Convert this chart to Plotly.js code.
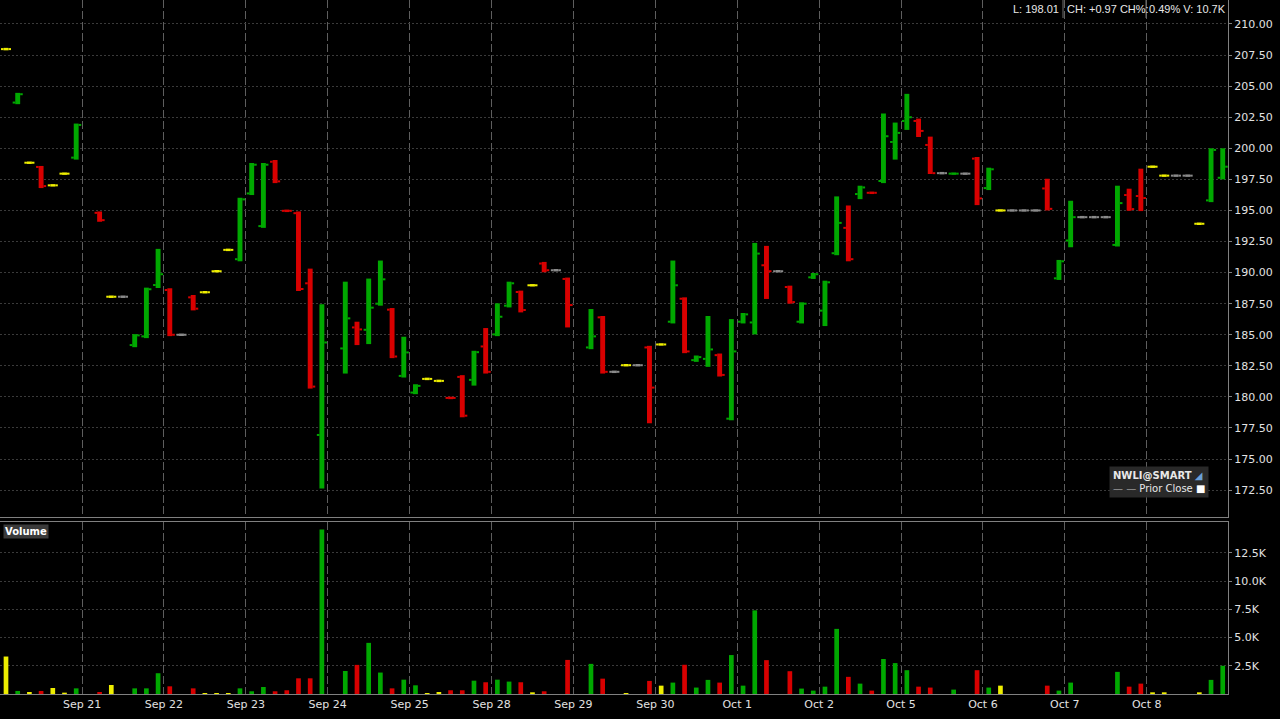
<!DOCTYPE html>
<html>
<head>
<meta charset="utf-8">
<script src="https://cdn.plot.ly/plotly-3.0.1.min.js"></script>
<style>
html,body{margin:0;padding:0;background:#000;}
#chart{width:1280px;height:719px;}
</style>
</head>
<body>
<div id="chart"></div>
<script>
// ---- Data (hourly bars, 7 per trading day; first day is Sep 18) ----
const dayLabels = ["Sep 21","Sep 22","Sep 23","Sep 24","Sep 25","Sep 28","Sep 29","Sep 30","Oct 1","Oct 2","Oct 5","Oct 6","Oct 7","Oct 8"];
const barsPerDay = 7;

// g = up, r = down, y = unchanged (flat), n = no trade (prior close), "" = empty
const kind = [
  "y","g","y","r","y","y","g",
  "","r","y","n","g","g","g",
  "r","n","r","y","y","y","g",
  "g","g","r","r","r","r","g",
  "","g","r","g","g","r","g",
  "g","y","y","r","r","g","r",
  "g","g","r","y","r","n","r",
  "","g","r","n","y","n","r",
  "y","g","r","g","g","r","g",
  "g","g","r","n","r","g","g",
  "g","g","r","g","r","g","g",
  "g","r","r","n","g","n","r",
  "g","y","n","n","n","r","g",
  "g","n","n","n","g","r","r",
  "y","y","n","n","y","g","g"
];

const openP = [
  207.98,203.68,198.84,198.50,197.02,197.96,199.25,
  null,194.81,188.06,188.06,184.17,184.87,189.00,
  188.60,185.00,188.01,188.42,190.11,191.83,191.08,
  196.37,193.74,198.92,194.97,194.78,189.14,176.94,
  null,183.90,185.59,185.40,187.50,187.02,181.69,
  180.35,181.45,181.29,179.92,181.61,181.37,184.06,
  185.03,187.34,188.44,188.98,190.73,190.19,189.49,
  null,183.98,186.40,182.02,182.55,182.55,183.98,
  184.22,186.05,187.90,182.96,183.06,183.36,178.25,
  186.05,185.99,190.59,190.11,188.84,186.05,189.62,
  186.94,191.56,193.60,196.32,196.42,197.37,200.51,
  202.20,202.20,200.27,198.00,197.96,197.96,199.17,
  196.80,195.00,195.00,195.00,195.00,196.77,189.54,
  192.58,194.46,194.46,194.46,192.23,196.24,196.16,
  198.52,197.80,197.80,197.80,193.93,195.81,197.63
];

const highP = [
  207.98,204.46,198.84,198.58,197.02,197.96,201.99,
  null,194.92,188.06,188.06,185.05,188.79,191.91,
  188.74,185.00,188.20,188.42,190.11,191.83,196.02,
  198.82,198.82,199.06,194.97,194.92,190.32,187.45,
  null,189.27,186.05,189.52,190.97,187.15,184.84,
  181.02,181.45,181.29,179.92,181.75,183.71,185.54,
  187.53,189.27,188.55,188.98,190.86,190.19,189.60,
  null,187.07,186.51,182.02,182.55,182.55,184.11,
  184.22,190.97,188.01,183.33,186.51,183.49,186.26,
  186.75,192.39,192.15,190.11,188.95,187.61,189.97,
  189.35,196.13,195.40,196.99,196.42,202.80,202.07,
  204.38,202.39,200.94,198.00,197.96,197.96,199.30,
  198.44,195.00,195.00,195.00,195.00,197.55,191.02,
  195.78,194.46,194.46,194.46,196.99,196.75,198.36,
  198.52,197.80,197.80,197.80,193.93,200.00,200.00
];

const lowP = [
  207.98,203.55,198.84,196.80,197.02,197.96,199.09,
  null,194.09,188.06,188.06,184.00,184.73,188.76,
  184.89,185.00,186.96,188.42,190.11,191.83,190.91,
  196.24,193.60,197.20,194.97,188.52,180.67,172.63,
  null,181.88,184.17,184.25,187.34,183.12,181.56,
  180.22,181.45,181.29,179.92,178.36,180.91,181.88,
  184.89,187.20,186.80,188.98,190.03,190.19,185.59,
  null,183.84,181.88,182.02,182.55,182.55,177.88,
  184.22,185.91,183.52,182.82,182.42,181.64,178.12,
  185.91,185.03,187.88,190.11,187.50,185.91,189.49,
  185.70,191.40,190.91,195.91,196.42,197.20,199.09,
  201.48,200.91,197.93,198.00,197.96,197.96,195.43,
  196.64,195.00,195.00,195.00,195.00,195.00,189.41,
  192.04,194.46,194.46,194.46,192.10,194.97,194.95,
  198.52,197.80,197.80,197.80,193.93,195.67,197.50
];

const closeP = [
  207.98,204.35,198.84,196.96,197.02,197.96,201.88,
  null,194.22,188.06,188.06,184.95,188.66,189.87,
  185.00,185.00,187.10,188.42,190.11,191.83,195.89,
  198.68,198.68,197.34,194.97,188.68,180.83,184.38,
  null,186.32,185.43,187.18,189.46,183.25,183.58,
  180.89,181.45,181.29,179.92,178.49,183.60,182.02,
  186.45,189.14,186.99,188.98,190.19,190.19,187.39,
  null,184.87,182.02,182.02,182.55,182.55,180.75,
  184.22,188.98,183.66,183.20,183.82,181.77,183.66,
  186.64,191.53,190.11,190.11,187.63,187.50,189.87,
  189.22,194.00,191.08,196.85,196.42,200.97,201.24,
  202.50,201.40,198.00,198.00,197.96,197.96,195.97,
  198.31,195.00,195.00,195.00,195.00,195.13,190.91,
  194.46,194.46,194.46,194.46,195.59,195.11,196.00,
  198.52,197.80,197.80,197.80,193.93,199.87,198.52
];

// Volume in thousands
const volumeK = [
  3.32,0.27,0.18,0.27,0.53,0.12,0.50,
  null,0.18,0.80,0,0.50,0.50,1.84,
  0.68,0,0.50,0.09,0.09,0.09,0.50,
  0.24,0.62,0.24,0.33,1.39,1.39,14.57,
  null,2.04,2.58,4.53,1.90,0.50,1.27,
  0.77,0.09,0.18,0.33,0.33,1.18,1.04,
  1.27,1.10,1.04,0.15,0.24,0,3.02,
  null,2.67,1.36,0,0.09,0,1.16,
  0.74,1.01,2.59,0.57,1.25,1.01,3.45,
  0.74,7.41,3.00,0,2.02,0.48,0.30,
  0.65,5.77,1.52,0.92,0.30,3.10,2.74,
  2.11,0.65,0.57,0,0.39,0,2.11,
  0.57,0.74,0,0,0,0.74,0.30,
  1.01,0,0,0,1.96,0.65,0.92,
  0.15,0.15,0,0,0.15,1.25,2.50
];

const priceTickLabels = ["172.50","175.00","177.50","180.00","182.50","185.00","187.50","190.00","192.50","195.00","197.50","200.00","202.50","205.00","207.50","210.00"];
const volTickLabels = ["2.5K","5.0K","7.5K","10.0K","12.5K"];
const volTickValsK = [2.5,5,7.5,10,12.5];
const headerCells = ["L: 198.01","CH: +0.97 CH%:","0.49% V: 10.7K"];

// ---- Styling ----
const colorMap = {g:"#00a800", r:"#d80000", y:"#eeee00", n:"#8a8a8a", "":"rgba(0,0,0,0)"};
const colors = kind.map(k => colorMap[k]);
const idx = kind.map((_, i) => i);
const TICK_H = 0.16;   // price units (~2px)
const MIN_BODY = 0.2;

const bodyBase = [], bodyH = [], openBase = [], closeBase = [], tickH = [];
for (let i = 0; i < kind.length; i++) {
  if (highP[i] == null) { bodyBase.push(null); bodyH.push(null); openBase.push(null); closeBase.push(null); tickH.push(null); continue; }
  let h = highP[i] - lowP[i];
  if (h < MIN_BODY) { bodyBase.push((highP[i] + lowP[i]) / 2 - MIN_BODY / 2); bodyH.push(MIN_BODY); }
  else { bodyBase.push(lowP[i]); bodyH.push(h); }
  openBase.push(openP[i] - TICK_H / 2);
  closeBase.push(closeP[i] - TICK_H / 2);
  tickH.push(TICK_H);
}

const xRange = [-0.513, 104.45];
const dayTickVals = dayLabels.map((_, k) => (k + 1) * barsPerDay - 0.5);
const priceTickVals = priceTickLabels.map(parseFloat);

const traces = [
  {type:"bar", x:idx, y:bodyH, base:bodyBase, width:0.42, offset:-0.21, marker:{color:colors, line:{width:0}}, xaxis:"x", yaxis:"y", hoverinfo:"skip"},
  {type:"bar", x:idx, y:tickH, base:openBase, width:0.22, offset:-0.43, marker:{color:colors, line:{width:0}}, xaxis:"x", yaxis:"y", hoverinfo:"skip"},
  {type:"bar", x:idx, y:tickH, base:closeBase, width:0.22, offset:0.21, marker:{color:colors, line:{width:0}}, xaxis:"x", yaxis:"y", hoverinfo:"skip"},
  {type:"bar", x:idx, y:volumeK, width:0.40, offset:-0.20, marker:{color:colors, line:{width:0}}, xaxis:"x2", yaxis:"y2", hoverinfo:"skip"}
];

const tickFont = {family:"DejaVu Sans", size:11, color:"#e2e2e2"};
const headFont = {family:"Liberation Sans", size:11, color:"#e8e8e8"};
const H = 694; // plot area height in px
const py = (px) => (H - px) / H;
const pxX = (px) => px / 1228;

const layout = {
  width:1280, height:719,
  paper_bgcolor:"#000", plot_bgcolor:"#000",
  margin:{l:0, r:52, t:0, b:25, pad:0},
  showlegend:false,
  barmode:"overlay",
  font:{family:"DejaVu Sans", color:"#e2e2e2"},
  xaxis:{domain:[0,1], range:xRange, anchor:"y", showticklabels:false, tickvals:dayTickVals, ticks:"",
         showgrid:true, gridcolor:"#5e5e5e", griddash:"8px,3px", gridwidth:1, zeroline:false,
         showline:true, linecolor:"#808080", linewidth:1, mirror:true, fixedrange:true},
  yaxis:{domain:[py(517),1], range:[170.34,211.93], side:"right", anchor:"x", tickvals:priceTickVals, ticktext:priceTickLabels,
         showgrid:true, gridcolor:"#3a3a3a", griddash:"2px,2px", zeroline:false,
         showline:true, linecolor:"#808080", linewidth:1, mirror:true,
         ticks:"outside", ticklen:3, tickcolor:"#808080", tickfont:tickFont, fixedrange:true},
  xaxis2:{domain:[0,1], range:xRange, anchor:"y2", tickvals:dayTickVals, ticktext:dayLabels, ticks:"", ticklen:0,
          showgrid:true, gridcolor:"#5e5e5e", griddash:"8px,3px", gridwidth:1, zeroline:false,
          showline:true, linecolor:"#808080", linewidth:1, mirror:true, tickfont:tickFont, fixedrange:true},
  yaxis2:{domain:[0,py(522)], range:[0,15.24], side:"right", anchor:"x2", tickvals:volTickValsK, ticktext:volTickLabels,
          showgrid:true, gridcolor:"#3a3a3a", griddash:"2px,2px", zeroline:false,
          showline:true, linecolor:"#808080", linewidth:1, mirror:true,
          ticks:"outside", ticklen:3, tickcolor:"#808080", tickfont:tickFont, fixedrange:true},
  annotations:[
    {xref:"paper", yref:"paper", x:pxX(1061), y:py(9), xanchor:"right", yanchor:"middle", showarrow:false,
     text:headerCells[0], font:headFont},
    {xref:"paper", yref:"paper", x:pxX(1065), y:py(9), xanchor:"left", yanchor:"middle", showarrow:false,
     text:headerCells[1], font:headFont},
    {xref:"paper", yref:"paper", x:pxX(1147), y:py(9), xanchor:"left", yanchor:"middle", showarrow:false,
     text:headerCells[2], font:headFont},
    {xref:"paper", yref:"paper", x:pxX(3), y:py(524), xanchor:"left", yanchor:"top", showarrow:false,
     text:"<b>Volume</b>", bgcolor:"#3a3a3a", borderpad:1, font:{family:"DejaVu Sans", size:10, color:"#ffffff"}},
    {xref:"paper", yref:"paper", x:pxX(1109), y:py(466), xanchor:"left", yanchor:"top", showarrow:false, align:"left",
     text:"<b>NWLI@SMART</b> <span style='color:#6aa0d8'>◢</span><br><span style='color:#9a9a9a'>— —</span> Prior Close <span style='color:#ffffff'>■</span>",
     bgcolor:"rgba(45,45,45,0.92)", borderpad:3, font:{family:"DejaVu Sans", size:10, color:"#e8e8e8"}}
  ],
  shapes:[
    {type:"line", xref:"paper", yref:"paper", x0:pxX(1063), x1:pxX(1063), y0:1, y1:py(18), line:{color:"#707070", width:1}},
    {type:"line", xref:"paper", yref:"paper", x0:pxX(1146), x1:pxX(1146), y0:1, y1:py(18), line:{color:"#707070", width:1}}
  ]
};

Plotly.newPlot("chart", traces, layout, {displayModeBar:false, staticPlot:true});
</script>
</body>
</html>
